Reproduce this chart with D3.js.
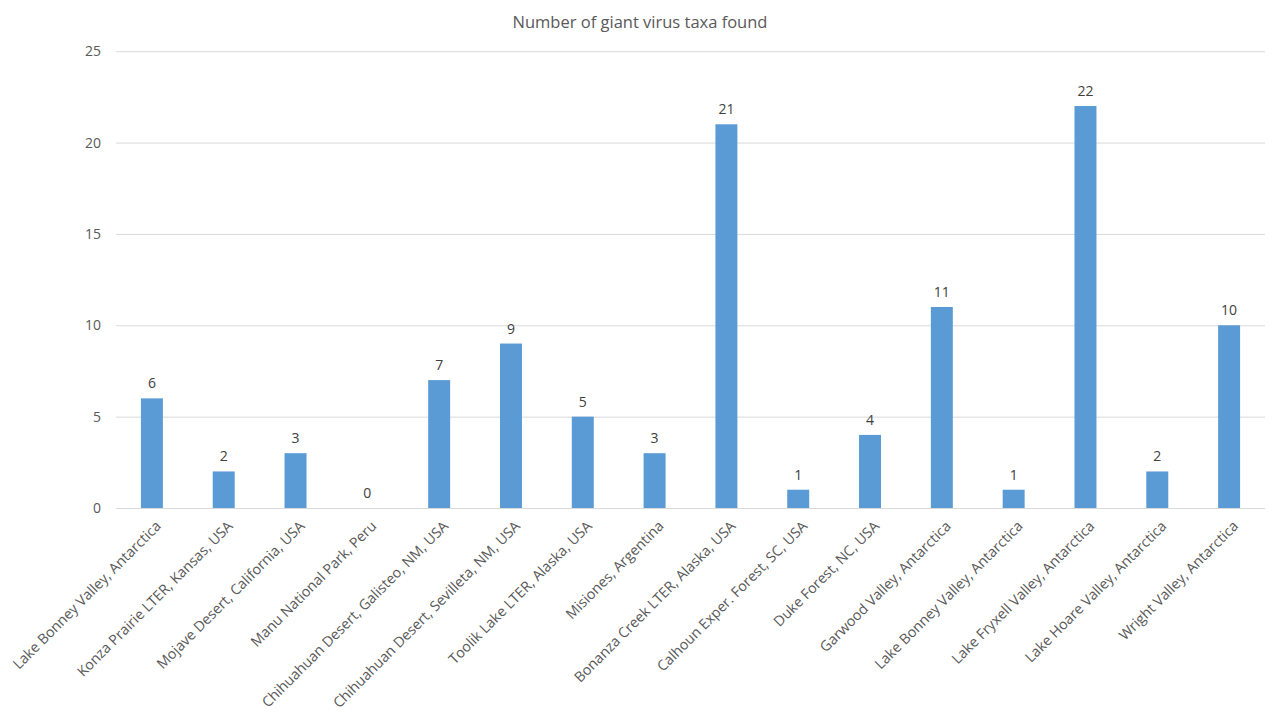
<!DOCTYPE html>
<html><head><meta charset="utf-8">
<script src="https://cdn.jsdelivr.net/npm/d3@7"></script>
<style>body{margin:0;background:#fff}svg{display:block}</style>
</head><body>
<svg id="chart" width="1280" height="720"></svg>
<script>
const categories = ["Lake Bonney Valley, Antarctica","Konza Prairie LTER, Kansas, USA","Mojave Desert, California, USA","Manu National Park, Peru","Chihuahuan Desert, Galisteo, NM, USA","Chihuahuan Desert, Sevilleta, NM, USA","Toolik Lake LTER, Alaska, USA","Misiones, Argentina","Bonanza Creek LTER, Alaska, USA","Calhoun Exper. Forest, SC, USA","Duke Forest, NC, USA","Garwood Valley, Antarctica","Lake Bonney Valley, Antarctica","Lake Fryxell Valley, Antarctica","Lake Hoare Valley, Antarctica","Wright Valley, Antarctica"];
const values = [6,2,3,0,7,9,5,3,21,1,4,11,1,22,2,10];
const yTicks = [0,5,10,15,20,25];
const title = "Number of giant virus taxa found";

(function(){
const svg = d3.select("#chart");
const font = "'Open Sans', 'Liberation Sans', sans-serif";
const textColor = "#595959";
const mLeft = 116, mRight = 1265, mTop = 51.2, mBottom = 508;

const x = d3.scaleBand().domain(d3.range(categories.length)).range([mLeft, mRight]).paddingInner(0.694).paddingOuter(0.347);
const y = d3.scaleLinear().domain([0, 25]).range([mBottom, mTop]);

svg.append("text").attr("x", 640).attr("y", 28).attr("text-anchor", "middle")
  .attr("font-family", font).attr("font-size", 16.5).attr("fill", textColor).text(title);

const yAxis = d3.axisLeft(y).tickValues(yTicks).tickSize(-(mRight-mLeft)).tickPadding(15);
const gy = svg.append("g").attr("transform", `translate(${mLeft},0)`).call(yAxis);
gy.select(".domain").remove();
gy.selectAll(".tick line").attr("stroke", "#d9d9d9").attr("stroke-width", 1);
gy.selectAll(".tick text").attr("font-family", font).attr("font-size", 14).attr("fill", textColor);

svg.append("g").selectAll("rect").data(values).join("rect")
  .attr("x", (d,i) => x(i)).attr("width", x.bandwidth())
  .attr("y", d => y(d)).attr("height", d => y(0) - y(d))
  .attr("fill", "#5b9bd5");

svg.append("g").selectAll("text").data(values).join("text")
  .attr("x", (d,i) => x(i) + x.bandwidth()/2).attr("y", d => y(d) - 10)
  .attr("text-anchor", "middle").attr("font-family", font).attr("font-size", 14)
  .attr("fill", "#404040").text(d => d);

const xAxis = d3.axisBottom(x).tickFormat(i => categories[i]).tickSize(0).tickPadding(0);
const gx = svg.append("g").attr("transform", `translate(0,${mBottom})`).call(xAxis);
gx.select(".domain").remove();
gx.selectAll(".tick text")
  .attr("font-family", font).attr("font-size", 14.3).attr("fill", textColor)
  .attr("text-anchor", "end").attr("dy", null).attr("y", 0).attr("x", 0)
  .attr("transform", "translate(10,19) rotate(-45)");
})();
</script>
</body></html>
